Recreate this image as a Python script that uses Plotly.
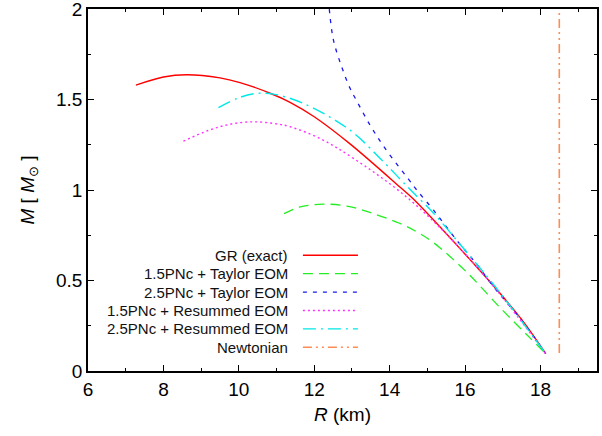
import plotly.graph_objects as go

# ---- data ----
gr_R = [7.27, 8.0, 8.62, 9.5, 10.03, 10.83, 11.36, 12.0, 12.95, 14.28, 14.63, 15.96, 16.84, 17.5, 18.14]
gr_M = [1.58, 1.625, 1.637, 1.62, 1.594, 1.535, 1.485, 1.405, 1.255, 1.015, 0.95, 0.655, 0.45, 0.285, 0.096]

t15_R = [11.2, 11.6, 12.24, 12.9, 13.48, 14.28, 14.72, 15.16, 16.05, 16.93, 17.64, 18.14]
t15_M = [0.87, 0.905, 0.922, 0.91, 0.876, 0.815, 0.769, 0.71, 0.545, 0.35, 0.2, 0.096]

t25_R = [12.4, 12.51, 12.73, 12.95, 13.1, 13.48, 13.88, 14.5, 14.72, 15.16, 15.82, 16.31, 16.75, 17.5, 18.14]
t25_M = [2.0, 1.829, 1.68, 1.562, 1.503, 1.359, 1.23, 1.06, 1.0, 0.89, 0.712, 0.59, 0.467, 0.28, 0.096]

r15_R = [8.53, 9.2, 9.8, 10.38, 10.92, 11.36, 12.2, 13.04, 14.36, 15.56, 16.84, 18.14]
r15_M = [1.27, 1.33, 1.365, 1.377, 1.368, 1.35, 1.28, 1.175, 0.977, 0.745, 0.446, 0.096]

r25_R = [9.46, 10.0, 10.47, 10.92, 11.71, 12.95, 13.75, 14.28, 14.63, 15.16, 16.05, 16.9, 18.14]
r25_M = [1.455, 1.51, 1.534, 1.53, 1.479, 1.331, 1.175, 1.06, 0.985, 0.873, 0.655, 0.44, 0.096]

newt_R = [18.5, 18.5]
newt_M = [0.1, 2.0]

labels = ["GR (exact)", "1.5PNc + Taylor EOM", "2.5PNc + Taylor EOM",
          "1.5PNc + Resummed EOM", "2.5PNc + Resummed EOM", "Newtonian"]

x_ticks = [6, 8, 10, 12, 14, 16, 18]
y_ticks = [0, 0.5, 1, 1.5, 2]
y_ticklabels = ["0", "0.5", "1", "1.5", "2"]

# ---- styles ----
colors = ["#ff0000", "#22ee22", "#1a1aee", "#ff33ff", "#00e8e8", "#ff8c55"]
dashes = ["solid", "10px,6px", "4px,6px", "2px,3px", "13px,5px,2px,5px", "9px,4px,2px,4px,2px,4px"]
widths = [1.4, 1.3, 1.3, 1.4, 1.4, 1.6]
series = [(gr_R, gr_M), (t15_R, t15_M), (t25_R, t25_M), (r15_R, r15_M), (r25_R, r25_M), (newt_R, newt_M)]

FONT = "Liberation Sans, Arial, Helvetica, sans-serif"

fig = go.Figure()
for (xs, ys), c, d, w, name in zip(series, colors, dashes, widths, labels):
    fig.add_trace(go.Scatter(x=xs, y=ys, mode="lines", name=name,
                             line=dict(color=c, width=w, dash=d, shape="spline", smoothing=1.0),
                             showlegend=False))

# custom legend (text right-aligned, sample line to the right)
leg_text_x = 11.36
leg_line_x0, leg_line_x1 = 11.70, 13.16
leg_y0, leg_dy = 0.64, 0.1018
for i, (name, c, d, w) in enumerate(zip(labels, colors, dashes, widths)):
    yy = leg_y0 - i * leg_dy
    fig.add_annotation(x=leg_text_x, y=yy, xref="x", yref="y", text=name, showarrow=False,
                       xanchor="right", yanchor="middle", font=dict(size=15, color="#111", family=FONT))
    fig.add_shape(type="line", x0=leg_line_x0, x1=leg_line_x1, y0=yy, y1=yy, xref="x", yref="y",
                  line=dict(color=c, width=w, dash=d))

axis_common = dict(showline=True, linecolor="black", linewidth=1.5, mirror="ticks",
                   ticks="inside", ticklen=6, tickwidth=1.3, tickcolor="black",
                   showgrid=False, zeroline=False, automargin=False, ticklabeloverflow="allow",
                   tickfont=dict(size=19, color="black", family=FONT))

fig.update_xaxes(range=[6, 19.5], tickvals=x_ticks,
                 minor=dict(dtick=1, tick0=6, ticks="inside", ticklen=3, tickcolor="black", tickwidth=1.2),
                 title=dict(text="<i>R</i> (km)", font=dict(size=19, color="black", family=FONT), standoff=9),
                 **axis_common)
fig.update_yaxes(range=[0, 2.0005], tickvals=y_ticks, ticktext=y_ticklabels,
                 minor=dict(dtick=0.25, tick0=0, ticks="inside", ticklen=3, tickcolor="black", tickwidth=1.2),
                 title=dict(text="<i>M</i> [ <i>M</i><sub>⊙</sub> ]", font=dict(size=19, color="black", family=FONT), standoff=16),
                 **axis_common)

fig.update_layout(width=602, height=436, margin=dict(l=88, r=5, t=9, b=65),
                  paper_bgcolor="white", plot_bgcolor="white",
                  font=dict(family=FONT, color="black"))

fig.write_html("out.html", config={"displayModeBar": False},
               post_script="document.body.style.margin='0';")
